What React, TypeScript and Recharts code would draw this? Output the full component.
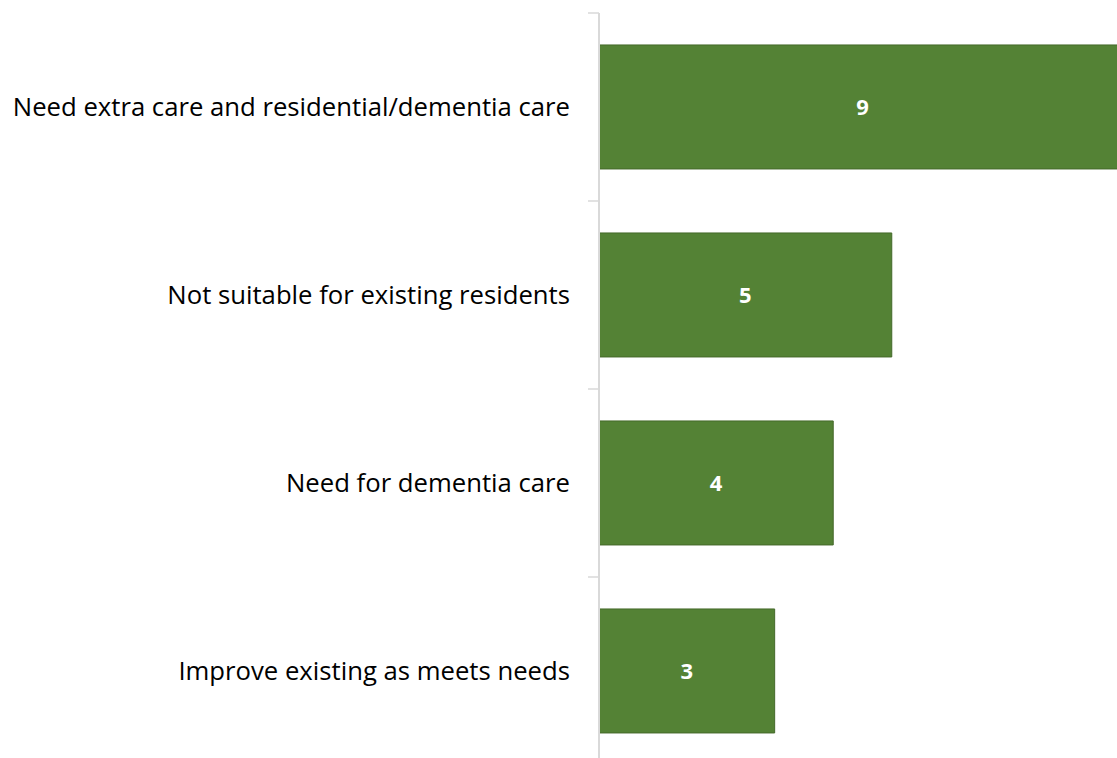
import React from "react";
import { BarChart, Bar, XAxis, YAxis, LabelList } from "recharts";

const categories = [
  "Need extra care and residential/dementia care",
  "Not suitable for existing residents",
  "Need for dementia care",
  "Improve existing as meets needs",
];
const counts = [9, 5, 4, 3];

const data = categories.map((name, i) => ({ name, value: counts[i] }));

const TICK_MARGIN = 29;

const CatTick = (props: any) => {
  const { x, y, payload, index, visibleTicksCount } = props;
  const half = payload && payload.offset ? payload.offset : 0;
  const axisX = x + TICK_MARGIN;
  return (
    <g>
      <line x1={axisX - 11} x2={axisX} y1={y - half} y2={y - half} stroke="#d9d9d9" strokeWidth={1.5} />
      {index === (visibleTicksCount ?? 4) - 1 ? (
        <line x1={axisX - 11} x2={axisX} y1={y + half} y2={y + half} stroke="#d9d9d9" strokeWidth={1.5} />
      ) : null}
      <text
        x={x}
        y={y}
        dy="0.355em"
        textAnchor="end"
        fill="#000"
        fontSize={25.7}
        fontFamily="'Open Sans', sans-serif"
      >
        {payload.value}
      </text>
    </g>
  );
};

export default function App() {
  return (
    <div
      style={{
        position: "absolute",
        left: 0,
        top: 0,
        width: 1117,
        height: 758,
        overflow: "hidden",
        background: "#fff",
      }}
    >
      <BarChart
        width={1140}
        height={772}
        data={data}
        layout="vertical"
        margin={{ top: 13, right: 14, bottom: 7, left: 0 }}
        barCategoryGap="17%"
      >
        <XAxis type="number" domain={[0, 9]} hide />
        <YAxis
          type="category"
          dataKey="name"
          width={599}
          tickLine={false}
          tickSize={0}
          axisLine={{ stroke: "#d9d9d9", strokeWidth: 2 }}
          tickMargin={TICK_MARGIN}
          tick={CatTick}
          interval={0}
        />
        <Bar
          dataKey="value"
          fill="#548235"
          stroke="#44692a"
          strokeWidth={1}
          isAnimationActive={false}
        >
          <LabelList
            dataKey="value"
            position="center"
            fill="#fff"
            fontSize={22}
            fontWeight="bold"
            fontFamily="'Open Sans', sans-serif"
          />
        </Bar>
      </BarChart>
    </div>
  );
}
